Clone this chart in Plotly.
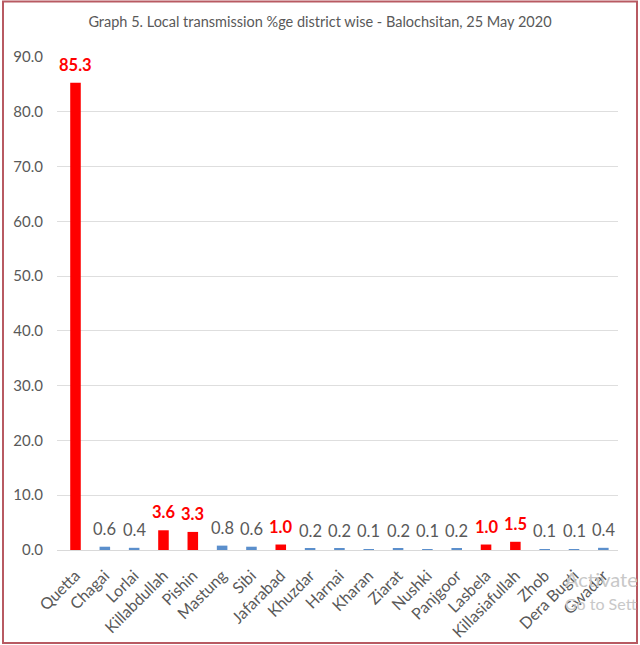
import plotly.graph_objects as go

districts = ["Quetta", "Chagai", "Lorlai", "Killabdullah", "Pishin", "Mastung", "Sibi",
             "Jafarabad", "Khuzdar", "Harnai", "Kharan", "Ziarat", "Nushki", "Panjgoor",
             "Lasbela", "Killasiafullah", "Zhob", "Dera Bugti", "Gwadar"]
values = [85.3, 0.6, 0.4, 3.6, 3.3, 0.8, 0.6, 1.0, 0.2, 0.2, 0.1, 0.2, 0.1, 0.2,
          1.0, 1.5, 0.1, 0.1, 0.4]
highlight = [True, False, False, True, True, False, False, True, False, False, False,
             False, False, False, True, True, False, False, False]
y_ticks = [0, 10, 20, 30, 40, 50, 60, 70, 80, 90]

RED = "#ff0000"
BLUE = "#5b8fcc"
GRAY = "#595959"
FONT = "Lato"

colors = [RED if h else BLUE for h in highlight]

fig = go.Figure()
fig.add_trace(go.Bar(
    x=districts, y=values,
    marker=dict(color=colors, line=dict(width=0)),
    hoverinfo="x+y",
))

L, R, T, B = 57, 22, 57, 95
W, H = 640, 645
pw, ph = W - L - R, H - T - B

def px_x(p):
    return (p - L) / pw

def px_y(p):
    return (H - B - p) / ph

labels = []
for d, v, h in zip(districts, values, highlight):
    labels.append(dict(
        x=d, y=v, xref="x", yref="y",
        text=f"<b>{v:.1f}</b>" if h else f"{v:.1f}",
        showarrow=False, xanchor="center", yanchor="middle", yshift=18,
        font=dict(size=16.5, color=RED if h else GRAY, family=FONT),
    ))

fig.update_layout(
    width=W, height=H,
    margin=dict(l=L, r=R, t=T, b=B, autoexpand=False),
    paper_bgcolor="white", plot_bgcolor="white",
    font=dict(family=FONT, color=GRAY),
    bargap=0.64,
    showlegend=False,
    title=dict(text="Graph 5. Local transmission %ge district wise - Balochsitan, 25 May 2020",
               x=0.5, xanchor="center", y=1 - 22 / H, yanchor="middle",
               font=dict(size=14.5, color=GRAY, family=FONT)),
    xaxis=dict(tickangle=-45, tickfont=dict(size=16, color=GRAY, family=FONT),
               showgrid=False, showline=True, linecolor="#d9d9d9", linewidth=1,
               ticks="", ticklabelstandoff=9, automargin=False, fixedrange=True),
    yaxis=dict(range=[0, 90], tickvals=y_ticks, tickformat=".1f",
               tickfont=dict(size=15, color=GRAY, family=FONT),
               showgrid=True, gridcolor="#dedede", gridwidth=1,
               zeroline=False, showline=False, ticks="", ticklen=0,
               ticklabelstandoff=13, automargin=False, fixedrange=True),
    shapes=[dict(type="rect", xref="paper", yref="paper",
                 x0=px_x(3), x1=px_x(637), y0=px_y(643), y1=px_y(1.5),
                 line=dict(color="#b85a62", width=2), fillcolor="rgba(0,0,0,0)",
                 layer="above")],
    annotations=labels + [
        dict(text="Activate", xref="paper", yref="paper", x=px_x(563), y=px_y(579),
             xanchor="left", yanchor="middle", showarrow=False,
             font=dict(size=20, color="#c8c8c8", family=FONT)),
        dict(text="Go to Sett", xref="paper", yref="paper", x=px_x(563), y=px_y(603),
             xanchor="left", yanchor="middle", showarrow=False,
             font=dict(size=16, color="#c8c8c8", family=FONT)),
    ],
)

fig.write_html("out.html")
